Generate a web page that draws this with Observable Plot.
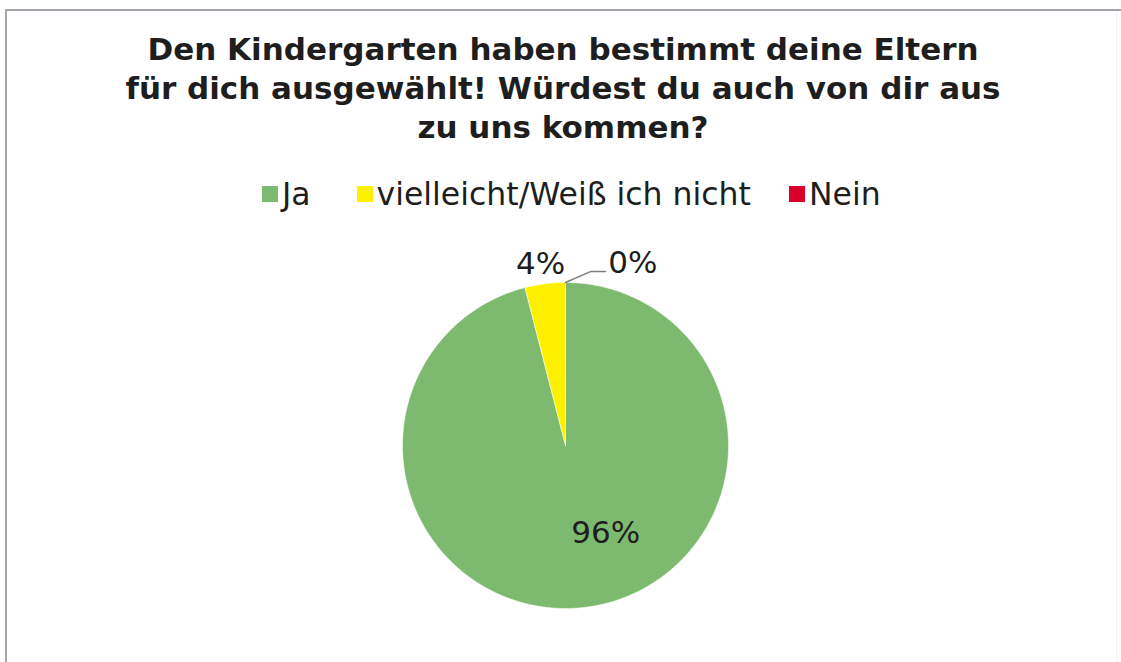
<!DOCTYPE html>
<html><head><meta charset="utf-8">
<script src="https://cdn.jsdelivr.net/npm/d3@7"></script>
<script src="https://cdn.jsdelivr.net/npm/@observablehq/plot@0.6"></script>
<style>
body{margin:0;background:#fff;}
#frame{position:relative;width:1121px;height:662px;overflow:hidden;font-family:"DejaVu Sans",Verdana,sans-serif;color:#1e1e1e;background:#fff;}
.bt{position:absolute;left:5px;top:9px;right:0;height:2px;background:#a3a7ab;}
.bl{position:absolute;left:5px;top:9px;bottom:0;width:2px;background:#a3a7ab;}
.br{position:absolute;right:4px;top:11px;bottom:0;width:1px;background:#f2f3f4;}
#chart{position:absolute;left:0;top:0;}
#title{position:absolute;top:30px;left:5px;width:1116px;text-align:center;font-weight:bold;font-size:31px;line-height:39px;margin:0;}
#legend{position:absolute;top:176px;left:262px;display:flex;align-items:center;font-size:31.5px;line-height:36px;white-space:nowrap;}
#legend .item{display:flex;align-items:center;}
#legend .sw{width:16px;height:16px;margin-right:4px;}
</style>
</head><body>
<div id="frame">
  <div class="bt"></div><div class="bl"></div><div class="br"></div>
  <div id="chart"></div>
  <div id="title"></div>
  <div id="legend"></div>
</div>
<script>
const titleLines = ["Den Kindergarten haben bestimmt deine Eltern", "für dich ausgewählt! Würdest du auch von dir aus", "zu uns kommen?"];
const categories = ["Ja", "vielleicht/Weiß ich nicht", "Nein"];
const values = [96, 4, 0];
const labels = ["96%", "4%", "0%"];
const colors = ["#7dba6f", "#fff000", "#d9002b"];

document.getElementById("title").innerHTML = titleLines.join("<br>");
const legend = document.getElementById("legend");
categories.forEach((c, i) => {
  const it = document.createElement("div");
  it.className = "item";
  it.style.marginRight = i === 0 ? "46px" : "38px";
  const sw = document.createElement("div");
  sw.className = "sw"; sw.style.background = colors[i];
  const tx = document.createElement("span"); tx.textContent = c;
  it.append(sw, tx); legend.append(it);
});

const cx = 565, cy = 445, r = 163;
const pie = d3.pie().sort(null).value(d => d.value).startAngle(0).endAngle(2 * Math.PI);
const data = categories.map((c, i) => ({key: c, value: values[i], label: labels[i]}));
const arcs = pie(data);

// polygon points for each slice (geometry only, derived from the pie layout)
const pts = [];
arcs.forEach(a => {
  if (a.endAngle - a.startAngle <= 0) return;
  pts.push({key: a.data.key, x: 0, y: 0});
  const n = Math.max(2, Math.ceil((a.endAngle - a.startAngle) / 0.01));
  for (let k = 0; k <= n; k++) {
    const t = a.startAngle + (a.endAngle - a.startAngle) * k / n;
    pts.push({key: a.data.key, x: Math.sin(t), y: Math.cos(t)});
  }
  pts.push({key: a.data.key, x: 0, y: 0});
});

// labels
const inside = [], outside = [], leaderLabels = [], leaders = [];
arcs.forEach(a => {
  const m = (a.startAngle + a.endAngle) / 2;
  const share = a.data.value / d3.sum(values);
  if (share >= 0.1) inside.push({x: Math.sin(m) * 0.6, y: Math.cos(m) * 0.6, label: a.data.label});
  else if (share > 0) outside.push({x: Math.sin(m) * 1.12, y: Math.cos(m) * 1.12, label: a.data.label});
  else {
    const sx = Math.sin(m), sy = Math.cos(m);
    leaders.push({x: sx, y: sy}, {x: sx + 0.153, y: sy + 0.067}, {x: sx + 0.245, y: sy + 0.067});
    leaderLabels.push({x: sx + 0.262, y: sy + 0.117, label: a.data.label});
  }
});

const plot = Plot.plot({
  width: 1121, height: 662, margin: 0,
  x: {domain: [-1, 1], range: [cx - r, cx + r], axis: null},
  y: {domain: [-1, 1], range: [cy + r, cy - r], axis: null},
  color: {domain: categories, range: colors},
  style: {background: "transparent", fontFamily: "'DejaVu Sans', Verdana, sans-serif"},
  marks: [
    Plot.line(pts, {x: "x", y: "y", z: "key", fill: "key", stroke: "#ffffff", strokeWidth: 1, strokeOpacity: 0.5, curve: "linear"}),
    Plot.line(leaders, {x: "x", y: "y", stroke: "#7f7f7f", strokeWidth: 1.5}),
    Plot.text(inside, {x: "x", y: "y", text: "label", dx: 28, dy: -9, fontSize: 31, fill: "#1e1e1e", textAnchor: "middle", lineAnchor: "middle"}),
    Plot.text(outside, {x: "x", y: "y", text: "label", dx: -2, fontSize: 31, fill: "#1e1e1e", textAnchor: "middle", lineAnchor: "middle"}),
    Plot.text(leaderLabels, {x: "x", y: "y", text: "label", fontSize: 31, fill: "#1e1e1e", textAnchor: "start", lineAnchor: "middle"})
  ]
});
document.getElementById("chart").append(plot);
</script>
</body></html>
